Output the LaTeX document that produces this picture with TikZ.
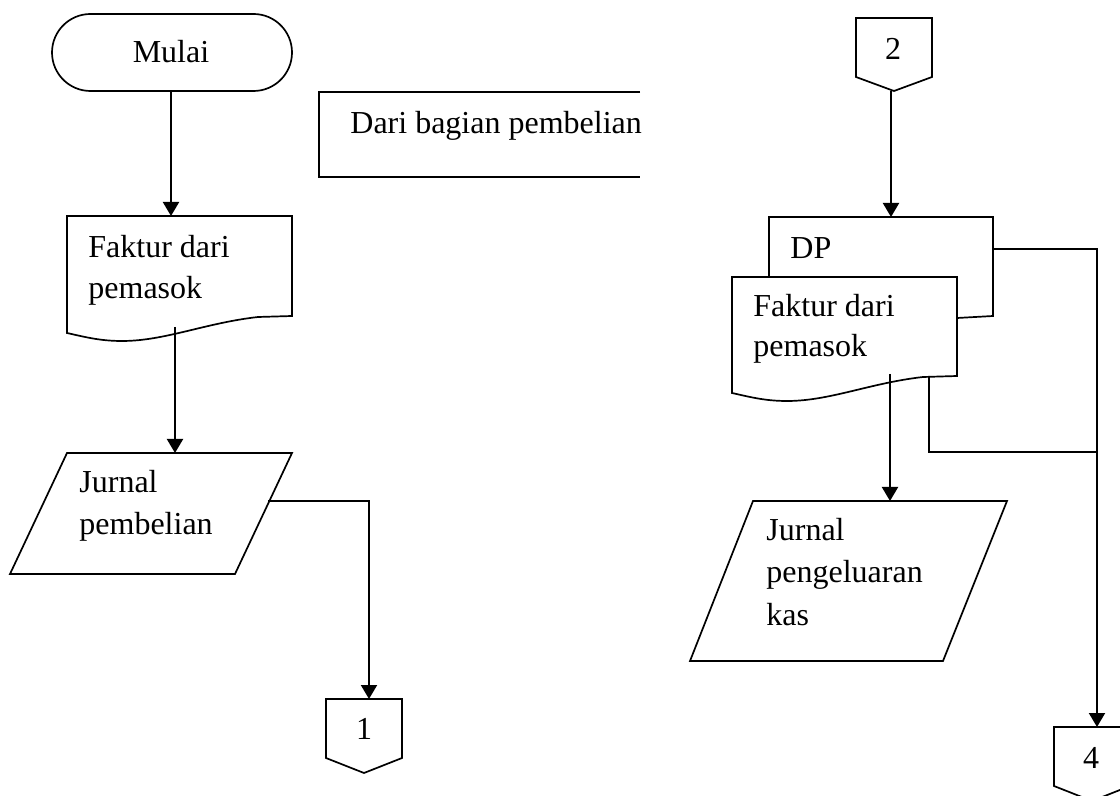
\documentclass[tikz,border=0pt]{standalone}
\usepackage{fontspec}
\setmainfont{Liberation Serif}
\usetikzlibrary{arrows.meta}

\tikzset{
  shp/.style={draw=black, line width=0.85pt, line join=miter},
  arr/.style={draw=black, line width=1pt, -{Triangle[width=8pt,length=7pt]}},
  link/.style={draw=black, line width=0.75pt},
  lbl/.style={inner sep=0pt, font=\fontsize{16}{21}\selectfont},
}

\begin{document}
\begin{tikzpicture}[x=0.5pt, y=-0.5pt]
\useasboundingbox (0,0) rectangle (1120,796);

% ---------- left column ----------
% start terminator
\draw[shp, rounded corners=19.25pt] (52,14) rectangle (292,91);
\node[lbl, anchor=base] (mulai) at (171,63) {Mulai};
\coordinate (mulaiB) at (171,91);

% note from the purchasing department (open on the right)
\draw[shp] (640,92) -- (319,92) -- (319,177) -- (640,177);
\node[lbl, anchor=base west] (dari) at (350,134) {Dari bagian pembelian};

% invoice document
\draw[shp] (67,216) -- (292,216) -- (292,316) -- (258,317)
  .. controls (205,323) and (165,341) .. (122,341)
  .. controls (100,341) and (85,337) .. (67,333) -- cycle;
\node[lbl, anchor=base west] (fak1a) at (88,258) {Faktur dari};
\node[lbl, anchor=base west] (fak1b) at (88,299) {pemasok};
\coordinate (fak1T) at (171,216);
\coordinate (fak1B) at (175,327);

% purchase journal
\draw[shp] (67,453) -- (292,453) -- (235,574) -- (10,574) -- cycle;
\node[lbl, anchor=base west] (jp1) at (79,493) {Jurnal};
\node[lbl, anchor=base west] (jp2) at (79,535) {pembelian};
\coordinate (jpT) at (175,453);
\coordinate (jpR) at (268,501);

% off-page connector 1
\draw[shp] (326,699) -- (402,699) -- (402,758) -- (364,773) -- (326,758) -- cycle;
\node[lbl, anchor=base] (c1) at (364,740) {1};
\coordinate (c1T) at (369,699);

% ---------- right column ----------
% off-page connector 2
\draw[shp] (856,18) -- (932,18) -- (932,77) -- (894,91) -- (856,77) -- cycle;
\node[lbl, anchor=base] (c2) at (893,60) {2};
\coordinate (c2B) at (891,91);

% DP document (behind)
\draw[shp] (769,277) -- (769,217) -- (993,217) -- (993,316) -- (957,318);
\node[lbl, anchor=base west] (dp) at (790,259) {DP};
\coordinate (dpT) at (891,217);
\coordinate (dpR) at (993,249);

% invoice document (front)
\begin{scope}[shift={(665,60)}]
\draw[shp, fill=white] (67,217) -- (292,217) -- (292,316) -- (258,317)
  .. controls (205,323) and (165,341) .. (122,341)
  .. controls (100,341) and (85,337) .. (67,333) -- cycle;
\end{scope}
\node[lbl, anchor=base west] (fak2a) at (753,317) {Faktur dari};
\node[lbl, anchor=base west] (fak2b) at (753,357) {pemasok};
\coordinate (fak2B) at (890,374);
\coordinate (fak2R) at (929,376);

% cash disbursement journal
\draw[shp] (753,501) -- (1007,501) -- (943,661) -- (690,661) -- cycle;
\node[lbl, anchor=base west] (jk1) at (766,541) {Jurnal};
\node[lbl, anchor=base west] (jk2) at (766,583) {pengeluaran};
\node[lbl, anchor=base west] (jk3) at (766,625) {kas};
\coordinate (jkT) at (890,501);

% off-page connector 4
\draw[shp] (1054,727) -- (1130,727) -- (1130,786) -- (1092,801) -- (1054,786) -- cycle;
\node[lbl, anchor=base] (c4) at (1091,768) {4};
\coordinate (c4T) at (1097,727);
\coordinate (join) at (1097,452);

% ---------- flow lines ----------
\draw[arr] (mulaiB) -- (fak1T);
\draw[arr] (fak1B) -- (jpT);
\draw[arr] (jpR) -| (c1T);
\draw[arr] (c2B) -- (dpT);
\draw[arr] (fak2B) -- (jkT);
\draw[link] (dpR) -| (join);
\draw[arr] (join) -- (c4T);
\draw[link] (fak2R) |- (join);
\end{tikzpicture}
\end{document}
